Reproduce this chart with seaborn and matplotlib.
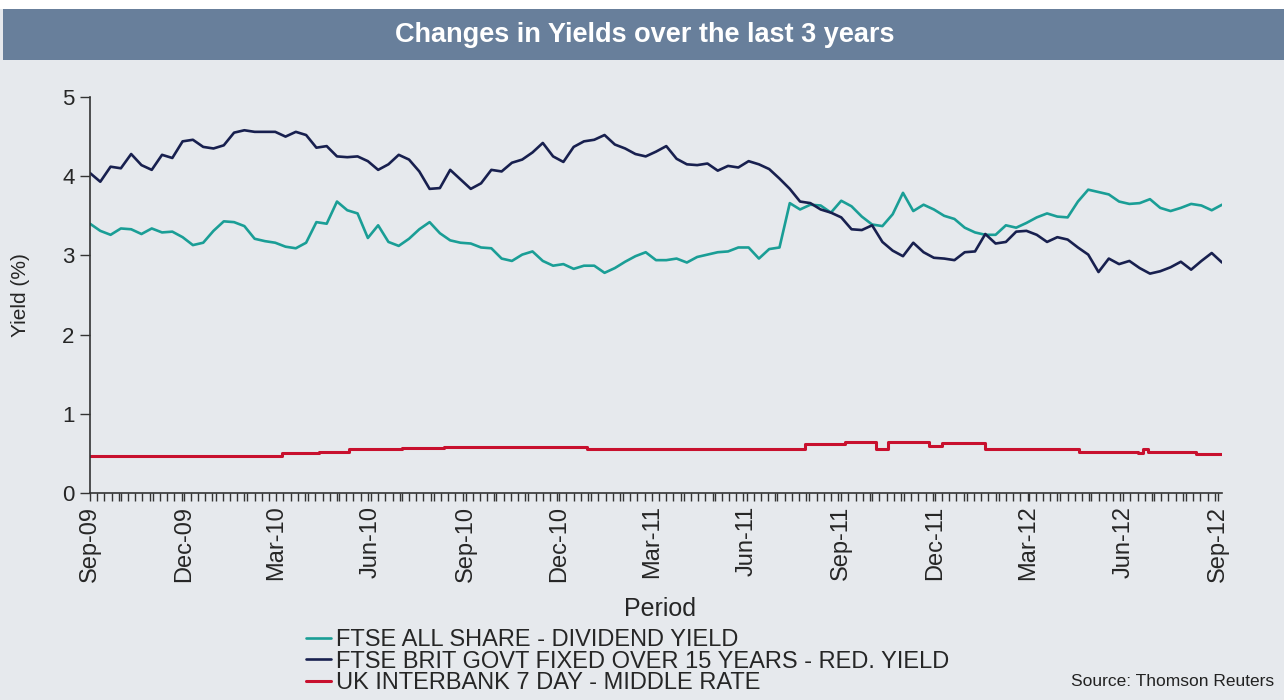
import pandas as pd
import matplotlib
matplotlib.use("Agg")
import matplotlib.pyplot as plt
import matplotlib.dates as mdates
from matplotlib.patches import Rectangle
import seaborn as sns

# readings, one every 10 days from 1 Sep 2009
start_date = "2009-09-01"

dividend_yield = [
    3.40, 3.31, 3.26, 3.34, 3.33, 3.27, 3.34, 3.29, 3.30, 3.23,
    3.13, 3.16, 3.31, 3.43, 3.42, 3.37, 3.21, 3.18, 3.16, 3.11,
    3.09, 3.16, 3.42, 3.40, 3.68, 3.57, 3.53, 3.22, 3.38, 3.17,
    3.12, 3.21, 3.33, 3.42, 3.28, 3.19, 3.16, 3.15, 3.10, 3.09,
    2.96, 2.93, 3.01, 3.05, 2.93, 2.87, 2.89, 2.83, 2.87, 2.87,
    2.78, 2.84, 2.92, 2.99, 3.04, 2.94, 2.94, 2.96, 2.91, 2.98,
    3.01, 3.04, 3.05, 3.10, 3.10, 2.96, 3.08, 3.10, 3.66, 3.58,
    3.64, 3.63, 3.54, 3.69, 3.62, 3.49, 3.39, 3.37, 3.52, 3.79,
    3.56, 3.64, 3.58, 3.50, 3.46, 3.35, 3.29, 3.26, 3.26, 3.38,
    3.35, 3.41, 3.48, 3.53, 3.49, 3.48, 3.68, 3.83, 3.80, 3.77,
    3.68, 3.65, 3.66, 3.71, 3.60, 3.56, 3.60, 3.65, 3.63, 3.57,
    3.64,
]

gilt_yield = [
    4.04, 3.93, 4.12, 4.10, 4.28, 4.14, 4.08, 4.27, 4.23, 4.44,
    4.46, 4.37, 4.35, 4.39, 4.55, 4.58, 4.56, 4.56, 4.56, 4.50,
    4.56, 4.52, 4.36, 4.38, 4.25, 4.24, 4.25, 4.19, 4.08, 4.15,
    4.27, 4.21, 4.06, 3.84, 3.85, 4.08, 3.96, 3.84, 3.91, 4.08,
    4.06, 4.17, 4.21, 4.30, 4.42, 4.25, 4.18, 4.37, 4.44, 4.46,
    4.52, 4.40, 4.35, 4.28, 4.25, 4.31, 4.38, 4.22, 4.15, 4.14,
    4.16, 4.07, 4.13, 4.11, 4.19, 4.15, 4.09, 3.97, 3.84, 3.68,
    3.66, 3.58, 3.54, 3.48, 3.33, 3.32, 3.38, 3.17, 3.06, 2.99,
    3.16, 3.04, 2.97, 2.96, 2.94, 3.04, 3.05, 3.27, 3.15, 3.17,
    3.30, 3.31, 3.26, 3.17, 3.23, 3.20, 3.10, 3.01, 2.79, 2.96,
    2.89, 2.93, 2.84, 2.77, 2.80, 2.85, 2.92, 2.82, 2.93, 3.03,
    2.91,
]

# interbank rate only moves in steps: dates where it changes
interbank_dates = [
    "2009-09-01", "2010-03-07", "2010-04-12", "2010-05-11", "2010-07-01",
    "2010-08-11", "2010-12-28", "2011-07-28", "2011-09-05", "2011-10-05",
    "2011-10-16", "2011-11-25", "2011-12-08", "2012-01-19", "2012-04-19",
    "2012-06-15", "2012-06-20", "2012-06-25", "2012-08-11", "2012-09-05",
]
interbank_rate = [
    0.47, 0.51, 0.52, 0.55, 0.57,
    0.585, 0.55, 0.62, 0.65, 0.55,
    0.65, 0.59, 0.635, 0.55, 0.52,
    0.50, 0.55, 0.52, 0.49, 0.49,
]

series_names = [
    "FTSE ALL SHARE - DIVIDEND YIELD",
    "FTSE BRIT GOVT FIXED OVER 15 YEARS - RED. YIELD",
    "UK INTERBANK 7 DAY - MIDDLE RATE",
]
series_colors = ["#1a9e96", "#18204f", "#c8102e"]

bg = "#e6e9ed"
bar_color = "#687f9b"

sns.set_theme(style="ticks")
plt.rcParams["font.family"] = ["Liberation Sans", "DejaVu Sans"]

fig = plt.figure(figsize=(12.84, 7), dpi=100, facecolor=bg)

# title bar
fig.patches.append(Rectangle((0, 1 - 9 / 700), 1, 9 / 700, transform=fig.transFigure,
                             facecolor="white", edgecolor="none", zorder=0))
fig.patches.append(Rectangle((3 / 1284, 1 - 60 / 700), 1, 51 / 700, transform=fig.transFigure,
                             facecolor=bar_color, edgecolor="none", zorder=0))
fig.text(0.502, 1 - 35 / 700, "Changes in Yields over the last 3 years", color="white",
         fontsize=19.5, fontweight="bold", ha="center", va="center")

ax = fig.add_axes([90 / 1284, 1 - 493 / 700, 1132 / 1284, 396 / 700])
ax.set_facecolor(bg)

sample_dates = pd.date_range(start_date, periods=len(gilt_yield), freq="10D")
sns.lineplot(x=sample_dates, y=dividend_yield, color=series_colors[0], lw=1.9,
             label=series_names[0], ax=ax)
sns.lineplot(x=sample_dates, y=gilt_yield, color=series_colors[1], lw=1.9,
             label=series_names[1], ax=ax)
sns.lineplot(x=pd.to_datetime(interbank_dates), y=interbank_rate, color=series_colors[2],
             lw=2.2, drawstyle="steps-post", label=series_names[2], ax=ax)

ax.set_xlim(pd.Timestamp("2009-09-01"), pd.Timestamp("2012-09-05"))
ax.set_ylim(0, 5)
ax.set_yticks([0, 1, 2, 3, 4, 5])

ax.xaxis.set_major_locator(mdates.MonthLocator(bymonth=[3, 6, 9, 12]))
ax.xaxis.set_major_formatter(mdates.DateFormatter("%b-%y"))
ax.xaxis.set_minor_locator(mdates.DayLocator(bymonthday=[1, 8, 15, 22, 29]))
ax.tick_params(axis="x", which="both", direction="out", length=6, width=1, color="#333333",
               labelsize=17, labelrotation=90, pad=3)
ax.tick_params(axis="y", direction="out", length=7, width=1, color="#333333", labelsize=16, pad=4)
for lab in ax.get_xticklabels():
    lab.set_va("top")

sns.despine(ax=ax)
for side in ["left", "bottom"]:
    ax.spines[side].set_color("#333333")
    ax.spines[side].set_linewidth(1.2)

ax.set_xlabel("Period", fontsize=18)
ax.xaxis.set_label_coords(0.5035, -0.262)
ax.set_ylabel("Yield (%)", fontsize=15)
ax.yaxis.set_label_coords(-0.053, 0.5)

ax.legend(loc="upper left", bbox_to_anchor=(306 / 1284, 1 - 629 / 700),
          bbox_transform=fig.transFigure, frameon=False, fontsize=17,
          handlelength=1.05, handletextpad=0.2, labelspacing=-0.02, borderpad=0,
          borderaxespad=0)

fig.text(1274 / 1284, 1 - 681 / 700, "Source: Thomson Reuters", fontsize=12.5,
         ha="right", va="center", color="#222222")

fig.savefig("out.png", dpi=100, facecolor=bg)
